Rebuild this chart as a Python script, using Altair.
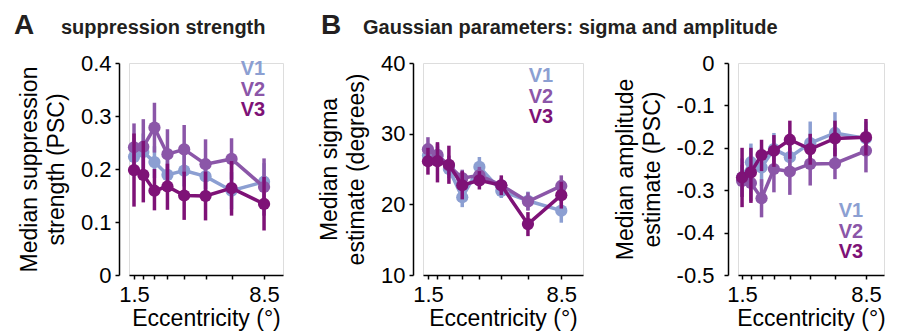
import altair as alt
import pandas as pd

# ---------------- data ----------------
ecc = [1.5, 2.0, 2.6, 3.3, 4.2, 5.35, 6.75, 8.5]
areas = ["V1", "V2", "V3"]
colors = ["#8c9fd2", "#8b56a8", "#7e1277"]

# Panel A: suppression strength (PSC)
a_v1 = [0.223, 0.232, 0.213, 0.189, 0.197, 0.186, 0.159, 0.176]
a_v1_hi = [0.258, 0.267, 0.243, 0.219, 0.227, 0.216, 0.194, 0.211]
a_v1_lo = [0.188, 0.197, 0.183, 0.159, 0.167, 0.156, 0.124, 0.141]
a_v2 = [0.241, 0.242, 0.278, 0.228, 0.237, 0.209, 0.219, 0.166]
a_v2_hi = [0.286, 0.294, 0.325, 0.275, 0.283, 0.256, 0.258, 0.220]
a_v2_lo = [0.196, 0.190, 0.231, 0.181, 0.191, 0.162, 0.180, 0.112]
a_v3 = [0.198, 0.189, 0.159, 0.167, 0.150, 0.149, 0.164, 0.134]
a_v3_hi = [0.267, 0.253, 0.200, 0.210, 0.195, 0.195, 0.215, 0.185]
a_v3_lo = [0.129, 0.137, 0.122, 0.123, 0.104, 0.103, 0.112, 0.084]

# Panel B: sigma (degrees)
b_v1 = [26.9, 26.8, 25.0, 21.0, 25.3, 21.9, 20.5, 19.1]
b_v1_hi = [28.3, 28.2, 26.3, 22.4, 26.7, 22.9, 21.8, 20.8]
b_v1_lo = [25.5, 25.4, 23.7, 19.6, 23.9, 20.9, 19.2, 17.4]
b_v2 = [27.8, 27.0, 25.5, 23.7, 24.1, 22.7, 20.4, 22.6]
b_v2_hi = [29.5, 28.6, 26.9, 24.9, 25.3, 23.7, 21.7, 24.1]
b_v2_lo = [26.1, 25.4, 24.1, 22.5, 22.9, 21.7, 19.1, 21.1]
b_v3 = [26.1, 26.1, 25.6, 22.7, 23.4, 22.7, 17.2, 21.3]
b_v3_hi = [28.0, 28.8, 28.3, 24.7, 24.7, 24.1, 18.9, 23.2]
b_v3_lo = [24.2, 23.1, 22.9, 20.7, 22.1, 21.3, 15.5, 19.4]

# Panel C: amplitude (PSC)
c_v1 = [-0.270, -0.234, -0.246, -0.203, -0.222, -0.189, -0.165, -0.178]
c_v1_hi = [-0.225, -0.190, -0.200, -0.165, -0.180, -0.138, -0.116, -0.138]
c_v1_lo = [-0.315, -0.280, -0.290, -0.240, -0.265, -0.240, -0.214, -0.218]
c_v2 = [-0.278, -0.283, -0.319, -0.250, -0.256, -0.238, -0.237, -0.207]
c_v2_hi = [-0.240, -0.240, -0.274, -0.200, -0.200, -0.188, -0.200, -0.156]
c_v2_lo = [-0.316, -0.326, -0.364, -0.305, -0.311, -0.289, -0.274, -0.258]
c_v3 = [-0.270, -0.258, -0.217, -0.207, -0.181, -0.203, -0.178, -0.175]
c_v3_hi = [-0.200, -0.200, -0.181, -0.170, -0.136, -0.167, -0.136, -0.132]
c_v3_lo = [-0.340, -0.330, -0.255, -0.245, -0.226, -0.240, -0.220, -0.218]

FONT = "Liberation Sans"
H = 212


def panel(series, xdomain, width, ydomain, yticks, ytitle, legend_xy,
          y_label_pad=4, y_title_pad=12, extra=None):
    xs = alt.Scale(domain=xdomain, nice=False, zero=False)
    ys = alt.Scale(domain=ydomain, nice=False, zero=False)
    xaxis = alt.Axis(
        values=ecc, grid=False, domainColor="black", domainWidth=1.5,
        tickColor="black", tickWidth=1.5, tickSize=4,
        labelExpr="datum.value == 1.5 ? '1.5' : (datum.value == 8.5 ? '8.5' : '')",
        labelFont=FONT, labelFontSize=22, labelColor="black", labelPadding=5,
        labelFlush=False, labelOverlap=False,
        title="Eccentricity (°)", titleFont=FONT, titleFontSize=23,
        titleFontWeight="normal", titleColor="black", titlePadding=2,
    )
    yaxis = alt.Axis(
        values=yticks, grid=False, offset=10, domainColor="black",
        domainWidth=1.5, tickColor="black", tickWidth=1.5, tickSize=4,
        labelExpr="toString(datum.value)", labelFont=FONT, labelFontSize=22,
        labelColor="black", labelPadding=y_label_pad, labelFlush=False,
        labelOverlap=False,
        title=ytitle, titleFont=FONT, titleFontSize=23, titleFontWeight="normal",
        titleColor="black", titlePadding=y_title_pad, titleLineHeight=27,
    )
    layers = []
    for (name, col, vals, lo, hi) in series:
        df = pd.DataFrame({"ecc": ecc, "y": vals, "lo": lo, "hi": hi})
        base = alt.Chart(df)
        layers.append(base.mark_rule(color=col, strokeWidth=3.5).encode(
            x=alt.X("ecc:Q", scale=xs, axis=xaxis),
            y=alt.Y("lo:Q", scale=ys, axis=yaxis), y2="hi:Q"))
        layers.append(base.mark_line(color=col, strokeWidth=3.5).encode(
            x=alt.X("ecc:Q", scale=xs, axis=xaxis),
            y=alt.Y("y:Q", scale=ys, axis=yaxis)))
        layers.append(base.mark_circle(color=col, size=150, opacity=1).encode(
            x=alt.X("ecc:Q", scale=xs, axis=xaxis),
            y=alt.Y("y:Q", scale=ys, axis=yaxis)))
    one = pd.DataFrame({"k": [0]})
    lx, ly = legend_xy
    for i, (name, col) in enumerate(zip(areas, colors)):
        layers.append(alt.Chart(one).mark_text(
            font=FONT, fontSize=20, fontWeight="bold", color=col,
            align="center", baseline="middle").encode(
            x=alt.value(lx), y=alt.value(ly + 20.5 * i), text=alt.value(name)))
    if extra:
        for (txt, px, py, size, base_) in extra:
            layers.append(alt.Chart(one).mark_text(
                font=FONT, fontSize=size, fontWeight="bold", color="#231f20",
                align="left", baseline=base_).encode(
                x=alt.value(px), y=alt.value(py), text=alt.value(txt)))
    return alt.layer(*layers).properties(width=width, height=H)


pA = panel(
    [("V1", colors[0], a_v1, a_v1_lo, a_v1_hi),
     ("V2", colors[1], a_v2, a_v2_lo, a_v2_hi),
     ("V3", colors[2], a_v3, a_v3_lo, a_v3_hi)],
    [1.23, 9.52], 154, [0, 0.4], [0, 0.1, 0.2, 0.3, 0.4],
    ["Median suppression", "strength (PSC)"], (124, 6),
    extra=[("A", -115, -51, 28, "top"),
           ("suppression strength", -68, -29, 20, "alphabetic")])

pB = panel(
    [("V1", colors[0], b_v1, b_v1_lo, b_v1_hi),
     ("V2", colors[1], b_v2, b_v2_lo, b_v2_hi),
     ("V3", colors[2], b_v3, b_v3_lo, b_v3_hi)],
    [1.24, 9.64], 160, [10, 40], [10, 20, 30, 40],
    ["Median sigma", "estimate (degrees)"], (118, 13),
    extra=[("B", -102, -51, 28, "top"),
           ("Gaussian parameters: sigma and amplitude", -60, -29, 20, "alphabetic")])

pC = panel(
    [("V1", colors[0], c_v1, c_v1_lo, c_v1_hi),
     ("V2", colors[1], c_v2, c_v2_lo, c_v2_hi),
     ("V3", colors[2], c_v3, c_v3_lo, c_v3_hi)],
    [1.27, 9.52], 146, [-0.5, 0], [0, -0.1, -0.2, -0.3, -0.4, -0.5],
    ["Median amplitude", "estimate (PSC)"], (113, 148), y_label_pad=10)

chart = alt.hconcat(
    pA,
    alt.hconcat(pB, pC, spacing=155, bounds="flush"),
    spacing=140, bounds="flush",
).properties(
    padding={"left": 13, "top": 11, "right": 5, "bottom": 5},
).configure_view(stroke=None).configure(background="white")

chart.save("out.html", embed_options={"renderer": "svg", "actions": False})
